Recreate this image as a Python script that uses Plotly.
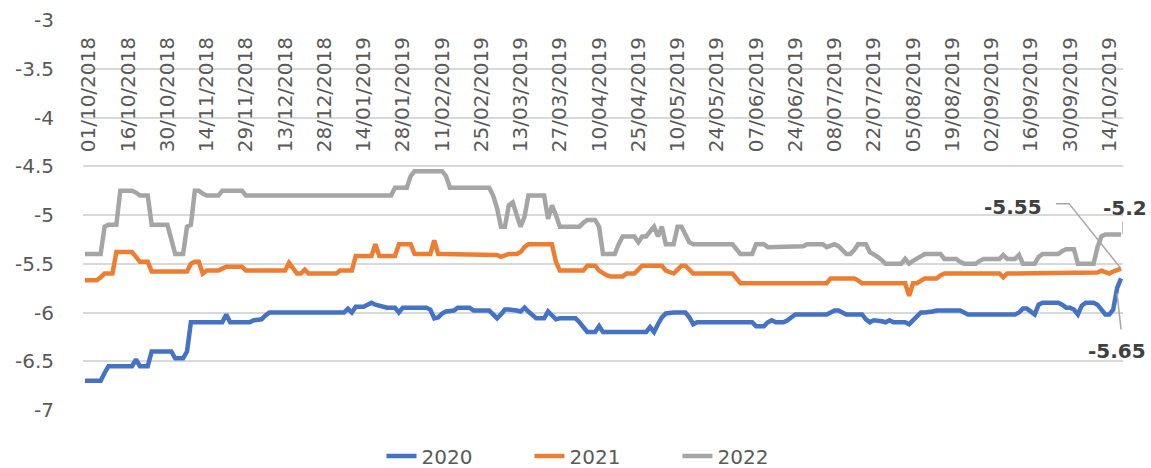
import plotly.graph_objects as go

tick_labels = ["01/10/2018", "16/10/2018", "30/10/2018", "14/11/2018", "29/11/2018",
               "13/12/2018", "28/12/2018", "14/01/2019", "28/01/2019", "11/02/2019",
               "25/02/2019", "13/03/2019", "27/03/2019", "10/04/2019", "25/04/2019",
               "10/05/2019", "24/05/2019", "07/06/2019", "24/06/2019", "08/07/2019",
               "22/07/2019", "05/08/2019", "19/08/2019", "02/09/2019", "16/09/2019",
               "30/09/2019", "14/10/2019"]

y_tick_values = [-3, -3.5, -4, -4.5, -5, -5.5, -6, -6.5, -7]
y_tick_labels = ["-3", "-3.5", "-4", "-4.5", "-5", "-5.5", "-6", "-6.5", "-7"]

v2020 = [
    -6.70, -6.70, -6.70, -6.70, -6.70, -6.62, -6.55, -6.55, -6.55, -6.55,
    -6.55, -6.55, -6.55, -6.48, -6.55, -6.55, -6.55, -6.40, -6.40, -6.40,
    -6.40, -6.40, -6.40, -6.47, -6.47, -6.47, -6.40, -6.10, -6.10, -6.10,
    -6.10, -6.10, -6.10, -6.10, -6.10, -6.10, -6.02, -6.10, -6.10, -6.10,
    -6.10, -6.10, -6.10, -6.08, -6.08, -6.07, -6.03, -6.00, -6.00, -6.00,
    -6.00, -6.00, -6.00, -6.00, -6.00, -6.00, -6.00, -6.00, -6.00, -6.00,
    -6.00, -6.00, -6.00, -6.00, -6.00, -6.00, -6.00, -5.96, -6.00, -5.94,
    -5.94, -5.94, -5.92, -5.90, -5.92, -5.93, -5.95, -5.95, -5.95, -5.95,
    -6.00, -5.95, -5.95, -5.95, -5.95, -5.95, -5.95, -5.95, -5.97, -6.06,
    -6.05, -6.01, -5.99, -5.99, -5.98, -5.95, -5.95, -5.95, -5.95, -5.98,
    -5.98, -5.98, -5.98, -5.98, -6.02, -6.06, -6.02, -5.97, -5.97, -5.97,
    -5.98, -5.99, -5.95, -5.99, -6.03, -6.06, -6.06, -6.06, -5.99, -6.03,
    -6.07, -6.06, -6.06, -6.06, -6.06, -6.06, -6.10, -6.16, -6.20, -6.20,
    -6.20, -6.14, -6.20, -6.20, -6.20, -6.20, -6.20, -6.20, -6.20, -6.20,
    -6.20, -6.20, -6.20, -6.20, -6.15, -6.20, -6.12, -6.05, -6.01, -6.00,
    -6.00, -6.00, -6.00, -6.00, -6.05, -6.12, -6.10, -6.10, -6.10, -6.10,
    -6.10, -6.10, -6.10, -6.10, -6.10, -6.10, -6.10, -6.10, -6.10, -6.10,
    -6.10, -6.14, -6.14, -6.14, -6.10, -6.08, -6.10, -6.10, -6.10, -6.08,
    -6.05, -6.02, -6.02, -6.02, -6.02, -6.02, -6.02, -6.02, -6.02, -6.02,
    -6.00, -5.98, -5.98, -6.00, -6.02, -6.02, -6.02, -6.02, -6.02, -6.07,
    -6.10, -6.08, -6.08, -6.09, -6.10, -6.08, -6.10, -6.10, -6.10, -6.10,
    -6.12, -6.08, -6.04, -6.00, -6.00, -6.00, -5.99, -5.98, -5.98, -5.98,
    -5.98, -5.98, -5.98, -5.98, -6.00, -6.02, -6.02, -6.02, -6.02, -6.02,
    -6.02, -6.02, -6.02, -6.02, -6.02, -6.02, -6.02, -6.02, -6.00, -5.96,
    -5.96, -5.99, -6.02, -5.92, -5.90, -5.90, -5.90, -5.90, -5.90, -5.92,
    -5.95, -5.95, -5.97, -6.02, -5.93, -5.90, -5.90, -5.90, -5.92, -5.97,
    -6.02, -6.02, -5.97, -5.75, -5.65,
]

v2021 = [
    -5.67, -5.67, -5.67, -5.67, -5.64, -5.60, -5.60, -5.60, -5.38, -5.38,
    -5.38, -5.38, -5.38, -5.43, -5.48, -5.48, -5.48, -5.58, -5.58, -5.58,
    -5.58, -5.58, -5.58, -5.58, -5.58, -5.58, -5.58, -5.50, -5.48, -5.48,
    -5.60, -5.57, -5.57, -5.57, -5.57, -5.55, -5.53, -5.53, -5.53, -5.53,
    -5.53, -5.57, -5.57, -5.57, -5.57, -5.57, -5.57, -5.57, -5.57, -5.57,
    -5.57, -5.57, -5.49, -5.55, -5.60, -5.60, -5.56, -5.60, -5.60, -5.60,
    -5.60, -5.60, -5.60, -5.60, -5.60, -5.57, -5.57, -5.57, -5.57, -5.42,
    -5.42, -5.42, -5.42, -5.42, -5.30, -5.42, -5.42, -5.42, -5.42, -5.42,
    -5.30, -5.30, -5.30, -5.30, -5.40, -5.40, -5.40, -5.40, -5.40, -5.26,
    -5.40, -5.40, -5.40, -5.40, -5.40, -5.40, -5.40, -5.40, -5.40, -5.40,
    -5.40, -5.40, -5.40, -5.40, -5.40, -5.41, -5.43, -5.41, -5.40, -5.40,
    -5.40, -5.38, -5.33, -5.30, -5.30, -5.30, -5.30, -5.30, -5.30, -5.30,
    -5.48, -5.57, -5.57, -5.57, -5.57, -5.57, -5.57, -5.57, -5.52, -5.52,
    -5.52, -5.57, -5.60, -5.62, -5.63, -5.63, -5.63, -5.63, -5.60, -5.60,
    -5.60, -5.56, -5.52, -5.52, -5.52, -5.52, -5.52, -5.52, -5.57, -5.58,
    -5.60, -5.56, -5.52, -5.52, -5.56, -5.60, -5.60, -5.60, -5.60, -5.60,
    -5.60, -5.60, -5.60, -5.60, -5.60, -5.60, -5.65, -5.70, -5.70, -5.70,
    -5.70, -5.70, -5.70, -5.70, -5.70, -5.70, -5.70, -5.70, -5.70, -5.70,
    -5.70, -5.70, -5.70, -5.70, -5.70, -5.70, -5.70, -5.70, -5.70, -5.70,
    -5.65, -5.65, -5.65, -5.65, -5.65, -5.65, -5.65, -5.67, -5.70, -5.70,
    -5.70, -5.70, -5.70, -5.70, -5.70, -5.70, -5.70, -5.70, -5.70, -5.70,
    -5.83, -5.70, -5.70, -5.67, -5.65, -5.65, -5.65, -5.65, -5.62, -5.60,
    -5.60, -5.60, -5.60, -5.60, -5.60, -5.60, -5.60, -5.60, -5.60, -5.60,
    -5.60, -5.60, -5.60, -5.60, -5.64, -5.60, -5.60, -5.60, -5.60, -5.60,
    -5.60, -5.60, -5.60, -5.60, -5.60, -5.60, -5.60, -5.60, -5.60, -5.60,
    -5.60, -5.60, -5.60, -5.60, -5.60, -5.60, -5.60, -5.60, -5.59, -5.57,
    -5.59, -5.60, -5.58, -5.57, -5.55,
]

v2022 = [
    -5.40, -5.40, -5.40, -5.40, -5.40, -5.12, -5.10, -5.10, -5.10, -4.75,
    -4.75, -4.75, -4.75, -4.77, -4.80, -4.80, -4.80, -5.10, -5.10, -5.10,
    -5.10, -5.10, -5.25, -5.40, -5.40, -5.40, -5.12, -5.10, -4.75, -4.75,
    -4.78, -4.80, -4.80, -4.80, -4.80, -4.75, -4.75, -4.75, -4.75, -4.75,
    -4.75, -4.80, -4.80, -4.80, -4.80, -4.80, -4.80, -4.80, -4.80, -4.80,
    -4.80, -4.80, -4.80, -4.80, -4.80, -4.80, -4.80, -4.80, -4.80, -4.80,
    -4.80, -4.80, -4.80, -4.80, -4.80, -4.80, -4.80, -4.80, -4.80, -4.80,
    -4.80, -4.80, -4.80, -4.80, -4.80, -4.80, -4.80, -4.80, -4.80, -4.72,
    -4.72, -4.72, -4.72, -4.60, -4.55, -4.55, -4.55, -4.55, -4.55, -4.55,
    -4.55, -4.55, -4.60, -4.72, -4.72, -4.72, -4.72, -4.72, -4.72, -4.72,
    -4.72, -4.72, -4.72, -4.72, -4.80, -4.93, -5.12, -5.12, -4.90, -4.87,
    -5.00, -5.12, -5.02, -4.80, -4.80, -4.80, -4.80, -4.80, -5.04, -4.90,
    -5.00, -5.12, -5.12, -5.12, -5.12, -5.12, -5.12, -5.08, -5.05, -5.05,
    -5.05, -5.12, -5.40, -5.40, -5.40, -5.40, -5.30, -5.22, -5.22, -5.22,
    -5.22, -5.28, -5.22, -5.22, -5.17, -5.12, -5.22, -5.12, -5.30, -5.30,
    -5.30, -5.12, -5.12, -5.20, -5.28, -5.30, -5.30, -5.30, -5.30, -5.30,
    -5.30, -5.30, -5.30, -5.30, -5.30, -5.30, -5.35, -5.40, -5.40, -5.40,
    -5.40, -5.30, -5.30, -5.30, -5.33, -5.33, -5.33, -5.33, -5.33, -5.33,
    -5.32, -5.32, -5.32, -5.32, -5.30, -5.30, -5.30, -5.30, -5.30, -5.33,
    -5.31, -5.30, -5.32, -5.36, -5.40, -5.40, -5.36, -5.30, -5.30, -5.30,
    -5.38, -5.40, -5.43, -5.46, -5.50, -5.50, -5.50, -5.50, -5.50, -5.45,
    -5.50, -5.47, -5.45, -5.42, -5.40, -5.40, -5.40, -5.40, -5.40, -5.45,
    -5.45, -5.45, -5.45, -5.48, -5.50, -5.50, -5.50, -5.50, -5.47, -5.45,
    -5.45, -5.45, -5.45, -5.45, -5.41, -5.45, -5.45, -5.45, -5.41, -5.50,
    -5.50, -5.50, -5.50, -5.43, -5.40, -5.40, -5.40, -5.40, -5.40, -5.37,
    -5.35, -5.35, -5.35, -5.50, -5.50, -5.50, -5.50, -5.50, -5.33, -5.22,
    -5.20, -5.20, -5.20, -5.20, -5.20,
]

series = [("2020", v2020, "#4472C4"), ("2021", v2021, "#ED7D31"), ("2022", v2022, "#A5A5A5")]

n = len(v2020)
x_idx = list(range(n))
tick_step = 10
tick_vals = [i * tick_step for i in range(len(tick_labels))]

FONT = "DejaVu Sans"
TXT = "#595959"

fig = go.Figure()
for name, vals, color in series:
    fig.add_trace(go.Scatter(x=x_idx, y=vals, name=name, mode="lines",
                             line=dict(color=color, width=4.5)))

# data labels on the last points, with leader lines (pixel offsets from the point)
label_specs = [
    (v2021, -108, 62, "M0,0 L-52,65 L-65,65"),
    (v2022, 4, 27, "M2,0 L2,13"),
    (v2020, -4, -73, "M-4,-15 L0,-51"),
]
last = n - 1
for vals, xs, ys, path in label_specs:
    fig.add_annotation(x=last, y=vals[-1], xref="x", yref="y", showarrow=False,
                       text="<b>%g</b>" % vals[-1], xshift=xs, yshift=ys,
                       font=dict(family=FONT, size=20, color="#404040"))
    fig.add_shape(type="path", xref="x", yref="y", xsizemode="pixel", ysizemode="pixel",
                  xanchor=last, yanchor=vals[-1], path=path,
                  line=dict(color="#A6A6A6", width=1.5))

fig.update_layout(
    width=1151, height=468,
    margin=dict(l=83, r=28, t=20, b=58, autoexpand=False),
    paper_bgcolor="white", plot_bgcolor="white",
    font=dict(family=FONT, size=20, color=TXT),
    showlegend=True,
    legend=dict(orientation="h", x=0.287, xanchor="left", y=-0.118, yanchor="middle",
                entrywidth=103, entrywidthmode="pixels",
                font=dict(family=FONT, size=20, color=TXT), bgcolor="rgba(0,0,0,0)"),
    xaxis=dict(range=[-0.5, n - 0.5], anchor="free", position=1, side="bottom",
               tickmode="array", tickvals=tick_vals, ticktext=tick_labels,
               tickangle=-90, showgrid=False, zeroline=False, showline=False,
               ticks="outside", ticklen=8, tickcolor="rgba(0,0,0,0)", ticklabelshift=4,
               tickfont=dict(family=FONT, size=20, color=TXT), automargin=False),
    yaxis=dict(range=[-7, -3], domain=[0, 1], tickmode="array", tickvals=y_tick_values,
               ticktext=y_tick_labels, showgrid=True, gridcolor="#D9D9D9", gridwidth=2,
               zeroline=False, showline=False, ticks="outside", ticklen=24,
               tickcolor="rgba(0,0,0,0)", tickfont=dict(family=FONT, size=20, color=TXT),
               automargin=False),
)

fig.write_html("out.html", config={"displayModeBar": False},
               post_script="document.body.style.margin='0px';")
